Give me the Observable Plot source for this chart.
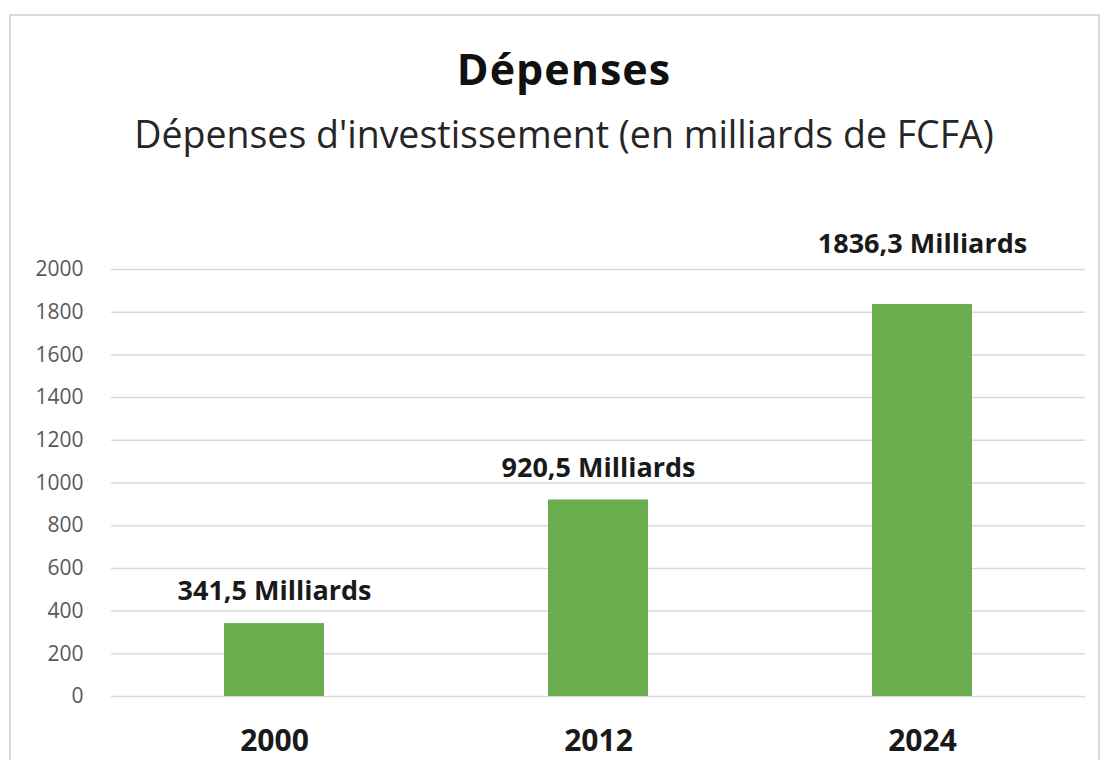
<!DOCTYPE html>
<html>
<head>
<meta charset="utf-8">
<script src="https://cdn.jsdelivr.net/npm/d3@7"></script>
<script src="https://cdn.jsdelivr.net/npm/@observablehq/plot@0.6"></script>
<style>
  html, body { margin: 0; padding: 0; background: #fff; }
  #wrap { position: relative; width: 1103px; height: 760px; overflow: hidden; font-family: "Open Sans", sans-serif; }
  #frame { position: absolute; left: 9px; top: 14px; width: 1091px; height: 800px; border: 2px solid #d9d9d9; box-sizing: border-box; }
  #title { position: absolute; left: 564px; top: 39px; transform: translateX(-50%); font-size: 43px; font-weight: 700; color: #111; white-space: nowrap; letter-spacing: 1px; line-height: normal; }
  #subtitle { position: absolute; left: 564px; top: 108px; transform: translateX(-50%); font-size: 37.5px; font-weight: 400; color: #262626; white-space: nowrap; line-height: normal; }
  #chart { position: absolute; left: 0; top: 180px; }
  #chart svg text { font-family: "Open Sans", sans-serif; }
</style>
</head>
<body>
<div id="wrap">
  <div id="frame"></div>
  <div id="title">Dépenses</div>
  <div id="subtitle">Dépenses d'investissement (en milliards de FCFA)</div>
  <div id="chart"></div>
</div>
<script>
const years = ["2000", "2012", "2024"];
const values = [341.5, 920.5, 1836.3];
const valueLabels = ["341,5 Milliards", "920,5 Milliards", "1836,3 Milliards"];
const yTicks = [0, 200, 400, 600, 800, 1000, 1200, 1400, 1600, 1800, 2000];
const yMax = 2000;

const data = years.map((year, i) => ({year, value: values[i], label: valueLabels[i]}));
const nearTop = d => d.value > yMax * 0.9;

const chart = Plot.plot({
  width: 1103,
  height: 580,
  marginTop: 89,
  marginBottom: 64,
  marginLeft: 111,
  marginRight: 18,
  style: {color: "#595959", background: "transparent", fontFamily: "Open Sans, sans-serif", overflow: "visible"},
  x: {domain: years, paddingInner: 0.69, paddingOuter: 0.345, label: null},
  y: {domain: [0, yMax], label: null},
  marks: [
    Plot.ruleY(yTicks, {stroke: "#d9d9d9", strokeWidth: 1.5}),
    Plot.axisY({ticks: yTicks, tickFormat: d => String(d), tickSize: 0, tickPadding: 28, fontSize: 21, fill: "#595959", label: null}),
    Plot.axisX({tickSize: 0, tickPadding: 33, fontSize: 30, fontWeight: "bold", fill: "#1a1a1a", label: null}),
    Plot.barY(data, {x: "year", y: "value", fill: "#6aae4f"}),
    Plot.text(data.filter(d => !nearTop(d)), {x: "year", y: "value", text: "label", dy: -32, fontSize: 27, fontWeight: "bold", fill: "#1a1a1a"}),
    Plot.text(data.filter(nearTop), {x: "year", y: "value", text: "label", dy: -60, fontSize: 27, fontWeight: "bold", fill: "#1a1a1a"})
  ]
});
document.getElementById("chart").appendChild(chart);
</script>
</body>
</html>
